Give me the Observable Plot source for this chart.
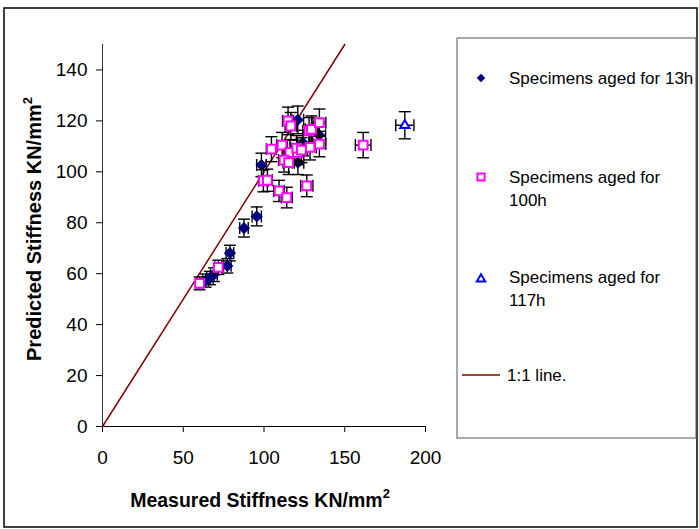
<!DOCTYPE html>
<html><head><meta charset="utf-8">
<script src="https://cdn.jsdelivr.net/npm/d3@7"></script>
<script src="https://cdn.jsdelivr.net/npm/@observablehq/plot@0.6"></script>
<style>body{margin:0;background:#fff} svg{display:block}</style>
</head><body><div id="chart"></div><script>
// Specimens aged for 13h
const x13 = [120.9, 134.1, 124.2, 121.0, 98.4, 95.5, 87.6, 78.9, 77.3, 69.0, 66.5, 63.9];
const y13 = [120.4, 114.4, 111.3, 103.6, 102.7, 82.5, 77.9, 68.1, 63.1, 59.6, 58.3, 57.3];
// Specimens aged for 100h
const x100 = [114.9, 116.6, 127.9, 129.4, 134.3, 134.3, 128.5, 104.6, 111.2, 116.1, 120.7, 112.4, 115.3, 120.3, 123.2, 99.6, 102.1, 109.3, 114.1, 126.5, 161.4, 71.7, 60.1];
const y100 = [120.0, 118.0, 116.1, 116.7, 119.3, 110.9, 109.6, 108.9, 110.5, 107.6, 107.6, 104.6, 103.6, 109.3, 108.5, 96.5, 96.7, 92.5, 89.9, 94.5, 110.5, 62.5, 56.2];
// Specimens aged for 117h
const x117 = [187.2];
const y117 = [118.3];
// 1:1 line
const lineX = [0, 150];
const lineY = [0, 150];
// percentage error bars
const xErrPct = 0.03;
const yErrPct = 0.045;
// ticks
const xTicks = [0, 50, 100, 150, 200];
const yTicks = [0, 20, 40, 60, 80, 100, 120, 140];
const seriesLabels = [["Specimens aged for 13h"], ["Specimens aged for", "100h"], ["Specimens aged for", "117h"], ["1:1 line."]];

const rows = (xs, ys) => xs.map((x, i) => ({x, y: ys[i], ex: x * xErrPct, ey: ys[i] * yErrPct}));
const d13 = rows(x13, y13), d100 = rows(x100, y100), d117 = rows(x117, y117);
const dLine = lineX.map((x, i) => ({x, y: lineY[i]}));

const hCap = {draw(ctx, size) { const r = Math.sqrt(size / Math.PI); ctx.moveTo(-r, 0); ctx.lineTo(r, 0); }};
const vCap = {draw(ctx, size) { const r = Math.sqrt(size / Math.PI); ctx.moveTo(0, -r); ctx.lineTo(0, r); }};

function errMarks(data) {
  const o = {stroke: "#000", strokeWidth: 1.4};
  return [
    Plot.ruleX(data, {x: "x", y1: d => d.y - d.ey, y2: d => d.y + d.ey, ...o}),
    Plot.ruleY(data, {y: "y", x1: d => d.x - d.ex, x2: d => d.x + d.ex, ...o}),
    Plot.dot(data, {x: "x", y: d => d.y + d.ey, symbol: hCap, r: 6, ...o}),
    Plot.dot(data, {x: "x", y: d => d.y - d.ey, symbol: hCap, r: 6, ...o}),
    Plot.dot(data, {x: d => d.x + d.ex, y: "y", symbol: vCap, r: 6, ...o}),
    Plot.dot(data, {x: d => d.x - d.ex, y: "y", symbol: vCap, r: 6, ...o})
  ];
}

const svg = Plot.plot({
  width: 699, height: 529,
  marginLeft: 102, marginRight: 274, marginTop: 44, marginBottom: 103,
  x: {domain: [0, 200]},
  y: {domain: [0, 150]},
  style: {fontFamily: "'Liberation Sans', Arial, sans-serif", fontSize: "19px", background: "white", color: "#000"},
  marks: [
    Plot.axisX({ticks: xTicks, tickSize: 6, tickPadding: 18, label: null}),
    Plot.axisY({ticks: yTicks, tickSize: 6, tickPadding: 9, label: null}),
    Plot.ruleX([0], {stroke: "#333"}),
    Plot.ruleY([0], {stroke: "#000"}),
    Plot.line(dLine, {x: "x", y: "y", stroke: "#800000", strokeWidth: 1.5}),
    ...errMarks(d13),
    Plot.dot(d13, {x: "x", y: "y", symbol: "diamond2", r: 5, fill: "#000080", stroke: "#000080", strokeWidth: 1}),
    ...errMarks(d100),
    Plot.dot(d100, {x: "x", y: "y", symbol: "square2", r: 5.6, fill: "white", stroke: "#FF00FF", strokeWidth: 2}),
    ...errMarks(d117),
    Plot.dot(d117, {x: "x", y: "y", symbol: "triangle2", r: 4.4, fill: "white", stroke: "#0000FF", strokeWidth: 2})
  ]
});

const s = d3.select(svg);
const font = "'Liberation Sans', Arial, sans-serif";
// outer frame
s.append("rect").attr("x", 4).attr("y", 8).attr("width", 693).attr("height", 519)
  .attr("fill", "none").attr("stroke", "#000").attr("stroke-width", 1.5);
// axis titles
const xt = s.append("text").attr("x", 260).attr("y", 507).attr("text-anchor", "middle")
  .attr("font-family", font).attr("font-weight", "bold").attr("font-size", 19.5).attr("fill", "#000");
xt.append("tspan").text("Measured Stiffness KN/mm");
xt.append("tspan").attr("dy", -9).attr("font-size", 13).text("2");
const yt = s.append("text").attr("transform", "translate(41,229) rotate(-90)").attr("text-anchor", "middle")
  .attr("font-family", font).attr("font-weight", "bold").attr("font-size", 20).attr("fill", "#000");
yt.append("tspan").text("Predicted Stiffness KN/mm");
yt.append("tspan").attr("dy", -9).attr("font-size", 13).text("2");
// legend
const lg = s.append("g").attr("text-anchor", "start");
lg.append("rect").attr("x", 457).attr("y", 38).attr("width", 239).attr("height", 400)
  .attr("fill", "white").attr("stroke", "#555").attr("stroke-width", 1);
const sym = (type, r) => d3.symbol(type, r * r * Math.PI)();
lg.append("path").attr("d", sym(d3.symbolDiamond2, 3.8)).attr("transform", "translate(481,78)").attr("fill", "#000080");
lg.append("path").attr("d", sym(d3.symbolSquare2, 4.6)).attr("transform", "translate(481,177)").attr("fill", "white").attr("stroke", "#FF00FF").attr("stroke-width", 2);
lg.append("path").attr("d", sym(d3.symbolTriangle2, 4.0)).attr("transform", "translate(481,279)").attr("fill", "white").attr("stroke", "#0000FF").attr("stroke-width", 2);
lg.append("line").attr("x1", 462).attr("x2", 500).attr("y1", 375).attr("y2", 375).attr("stroke", "#800000").attr("stroke-width", 1.5);
const baselines = [84, 183, 283, 381];
seriesLabels.forEach((lines, i) => {
  lines.forEach((t, j) => {
    lg.append("text").attr("x", i === 3 ? 507 : 509).attr("y", baselines[i] + j * 23)
      .attr("text-anchor", "start")
      .attr("font-family", font).attr("font-size", 17).attr("fill", "#000").text(t);
  });
});
document.getElementById("chart").appendChild(svg);
</script></body></html>
